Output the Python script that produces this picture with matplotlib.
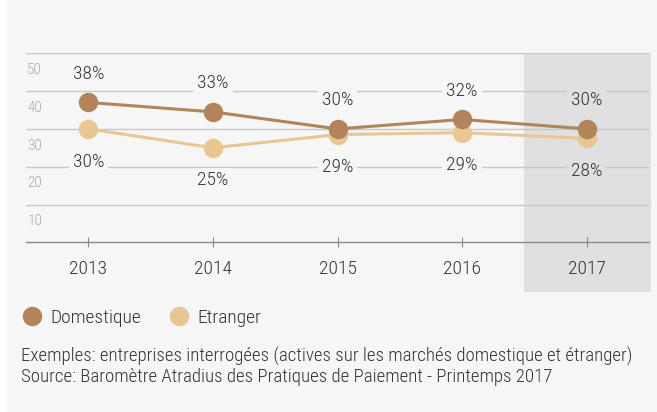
import matplotlib
matplotlib.use("Agg")
import matplotlib.pyplot as plt
import matplotlib.transforms as mtransforms
from matplotlib.lines import Line2D
from matplotlib.patches import Rectangle

# data
years = ["2013", "2014", "2015", "2016", "2017"]
domestique = [37, 34.5, 30, 32.5, 30]
etranger = [30, 25, 28.5, 29, 27.5]
dom_labels = ["38%", "33%", "30%", "32%", "30%"]
etr_labels = ["30%", "25%", "29%", "29%", "28%"]
y_grid = [10, 20, 30, 40, 50]
y_ticklabels = ["10", "20", "30", "40", "50"]

footer = ["Exemples: entreprises interrogées (actives sur les marchés domestique et étranger)",
          "Source: Baromètre Atradius des Pratiques de Paiement - Printemps 2017"]

BG = "#f6f6f6"
SHADE = "#e0e0e2"
C_DOM = "#b1845c"
C_ETR = "#e8c793"
TXT = "#333333"

plt.rcParams['font.family'] = ['Roboto Condensed', 'DejaVu Sans']
plt.rcParams['font.weight'] = 'light'

fig = plt.figure(figsize=(6.57, 4.12), dpi=100, facecolor=BG)
# white strip on the left edge
fig.patches.append(Rectangle((0, 0), 7 / 657, 1, transform=fig.transFigure,
                             facecolor="white", edgecolor="none", zorder=0))

ax = fig.add_axes([26 / 657, 1 - 242.3 / 412, 623 / 657, 189 / 412])
ax.set_facecolor("none")
x = list(range(len(years)))
ax.set_xlim(-0.5, 4.5)
ax.set_ylim(0, 50)

# highlight for the last year
trans = mtransforms.blended_transform_factory(ax.transData, ax.transAxes)
ax.add_patch(Rectangle((3.5, -0.265), 1.02, 1.265, transform=trans,
                       facecolor=SHADE, edgecolor="none", clip_on=False, zorder=0))

for v, lab in zip(y_grid, y_ticklabels):
    ax.axhline(v, color="#c8c8c8", lw=1, zorder=1)
    ax.text(0.002, v - 4.4, lab, transform=ax.get_yaxis_transform(), ha="left", va="center",
            fontsize=11, color="#aaaaaa")

for s in ["top", "right", "left"]:
    ax.spines[s].set_visible(False)
ax.spines["bottom"].set_color("#8a8a8a")
ax.spines["bottom"].set_linewidth(1)
ax.set_yticks([])
ax.set_xticks(x)
ax.set_xticklabels(years)
ax.tick_params(axis="x", direction="inout", length=7, width=0.8, color="#8a8a8a",
               labelsize=14, labelcolor=TXT, pad=9)

ax.plot(x, domestique, color=C_DOM, lw=2.2, marker="o", ms=13, zorder=4, clip_on=False)
ax.plot(x, etranger, color=C_ETR, lw=2.2, marker="o", ms=13, zorder=3, clip_on=False)

for i in x:
    fc = SHADE if i == len(x) - 1 else BG
    ax.annotate(dom_labels[i], (i, domestique[i]), xytext=(0, 20.5), textcoords="offset points",
                ha="center", va="center", fontsize=14, color=TXT, zorder=5,
                bbox=dict(boxstyle="square,pad=0.2", fc=fc, ec="none"))
    ax.annotate(etr_labels[i], (i, etranger[i]), xytext=(0, -23.5), textcoords="offset points",
                ha="center", va="center", fontsize=14, color=TXT, zorder=5,
                bbox=dict(boxstyle="square,pad=0.2", fc=fc, ec="none"))

handles = [Line2D([], [], ls="none", marker="o", ms=13, color=C_DOM),
           Line2D([], [], ls="none", marker="o", ms=13, color=C_ETR)]
fig.legend(handles, ["Domestique", "Etranger"], loc="center left",
           bbox_to_anchor=(22 / 657, 1 - 317.7 / 412), ncol=2, frameon=False,
           fontsize=14, labelcolor=TXT, handlelength=1.0, handletextpad=0.45,
           columnspacing=1.45, borderpad=0, borderaxespad=0)

fig.text(21 / 657, 1 - 356.7 / 412, footer[0], ha="left", va="center", fontsize=13.6, color=TXT)
fig.text(21 / 657, 1 - 376.7 / 412, footer[1], ha="left", va="center", fontsize=13.6, color=TXT)

fig.savefig("out.png", dpi=100, facecolor=BG)
